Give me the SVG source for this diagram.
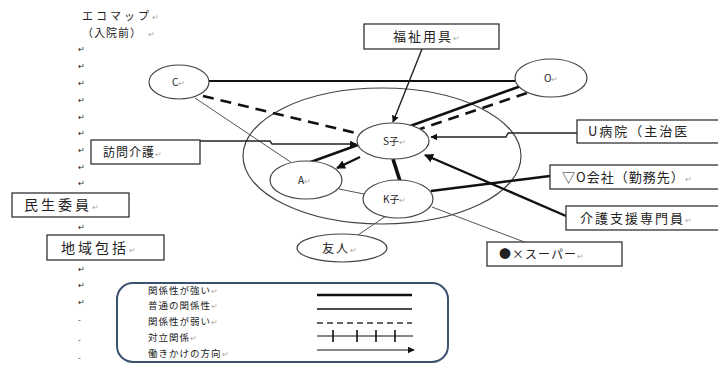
<svg xmlns="http://www.w3.org/2000/svg" width="718" height="367" viewBox="0 0 718 367">
<style>
text{font-family:"Noto Sans CJK JP","Noto Sans",sans-serif;fill:#222}
.box{fill:#fff;stroke:#333;stroke-width:1.3}
.node{fill:#fff;stroke:#444;stroke-width:1.2}
.rm{fill:#aaa;font-size:8px}
.lbl{font-size:13px;letter-spacing:2px}
.nl{font-size:10px}
.thin{stroke:#555;stroke-width:1;fill:none}
.norm{stroke:#111;stroke-width:2;fill:none}
.thick{stroke:#111;stroke-width:2.6;fill:none}
.dash{stroke:#111;stroke-width:2.6;stroke-dasharray:11,7;fill:none}
.arr{stroke:#222;stroke-width:1.4;fill:none;marker-end:url(#ah)}
.arrT{stroke:#111;stroke-width:2.4;fill:none;marker-end:url(#ah2)}
.lg{font-size:9.5px;letter-spacing:1px}
</style>
<defs>
<marker id="ah" viewBox="0 0 10 10" refX="9" refY="5" markerWidth="7" markerHeight="7" orient="auto" markerUnits="userSpaceOnUse"><path d="M0,0 L10,5 L0,10 z" fill="#111"/></marker>
<marker id="ah2" viewBox="0 0 10 10" refX="9" refY="5" markerWidth="9" markerHeight="9" orient="auto" markerUnits="userSpaceOnUse"><path d="M0,0 L10,5 L0,10 z" fill="#111"/></marker>
</defs>
<rect width="718" height="367" fill="#fff"/>

<g id="title">
<text x="82" y="20" font-size="11" letter-spacing="3">エコマップ<tspan class="rm">↵</tspan></text>
<text x="82" y="37" font-size="11" letter-spacing="1">（入院前）<tspan class="rm" dx="6">↵</tspan></text>
</g>

<g id="return-marks" class="rm">
<text x="78" y="52">↵</text><text x="78" y="69">↵</text><text x="78" y="86">↵</text><text x="78" y="103">↵</text><text x="78" y="120">↵</text><text x="78" y="136">↵</text><text x="78" y="153">↵</text><text x="78" y="170">↵</text><text x="78" y="186">↵</text><text x="78" y="230">↵</text><text x="78" y="272">↵</text><text x="78" y="288">↵</text><text x="78" y="305">↵</text><text x="78" y="323">-</text><text x="78" y="343">-</text><text x="78" y="361">-</text>
</g>

<g id="family-circle"><ellipse cx="382" cy="156" rx="139" ry="68" fill="none" stroke="#444" stroke-width="1.2"/></g>

<g id="connectors">
<line class="norm" x1="209" y1="81" x2="515" y2="81"/>
<line class="dash" x1="203" y1="96" x2="360" y2="134"/>
<line class="thin" x1="195" y1="98" x2="292" y2="163"/>
<line class="thick" x1="521" y1="86" x2="308" y2="163"/>
<line class="dash" x1="527" y1="93" x2="420" y2="129"/>
<line class="arr" x1="422" y1="49" x2="393" y2="122"/>
<polyline class="arr" points="200,141 270,141 272,144 356,144"/>
<polyline class="arr" points="577,133 508,133 506,137 431,137"/>
<line class="arrT" x1="360" y1="157" x2="337" y2="168"/>
<line stroke="#111" stroke-width="3.6" x1="393" y1="159" x2="400" y2="181"/>
<line class="thick" x1="431" y1="191" x2="550" y2="176"/>
<line class="arrT" x1="566" y1="216" x2="425" y2="155"/>
<line class="thin" x1="339" y1="189" x2="364" y2="194"/>
<line class="thin" x1="386" y1="216" x2="355" y2="237"/>
<line class="thin" x1="432" y1="207" x2="527" y2="243"/>
</g>

<g id="node-C"><ellipse class="node" cx="179" cy="82" rx="30" ry="17"/><text class="nl" x="172" y="86">C<tspan class="rm">↵</tspan></text></g>
<g id="node-O"><ellipse class="node" cx="551" cy="78" rx="36" ry="19"/><text class="nl" x="544" y="82">O<tspan class="rm">↵</tspan></text></g>
<g id="node-S"><ellipse class="node" cx="393" cy="141" rx="36" ry="18"/><text class="nl" x="383" y="145">S子<tspan class="rm">↵</tspan></text></g>
<g id="node-A"><ellipse class="node" cx="306" cy="180" rx="36" ry="19"/><text class="nl" x="298" y="184">A<tspan class="rm">↵</tspan></text></g>
<g id="node-K"><ellipse class="node" cx="398" cy="199" rx="35" ry="19"/><text class="nl" x="383" y="203">K子<tspan class="rm">↵</tspan></text></g>
<g id="node-friend"><ellipse class="node" cx="342" cy="248" rx="45" ry="14"/><text x="322" y="253" font-size="12" letter-spacing="2">友人<tspan class="rm">↵</tspan></text></g>

<g id="box-fukushi"><rect class="box" x="364" y="24" width="135" height="25"/><text class="lbl" x="393" y="41">福祉用具<tspan class="rm">↵</tspan></text></g>
<g id="box-houmon"><rect class="box" x="91" y="140" width="109" height="24"/><text x="103" y="157" font-size="12" letter-spacing="1">訪問介護<tspan class="rm">↵</tspan></text></g>
<g id="box-minsei"><rect class="box" x="12" y="193" width="117" height="24"/><text x="24" y="210" font-size="14" letter-spacing="3">民生委員<tspan class="rm">↵</tspan></text></g>
<g id="box-chiiki"><rect class="box" x="47" y="235" width="117" height="25"/><text x="61" y="253" font-size="14" letter-spacing="3">地域包括<tspan class="rm">↵</tspan></text></g>
<g id="box-hospital"><rect class="box" x="577" y="120" width="150" height="23"/><text class="lbl" x="588" y="136">U病院（主治医</text></g>
<g id="box-company"><rect class="box" x="550" y="165" width="170" height="24"/><text x="562" y="182" font-size="13" letter-spacing="1">▽O会社（勤務先）<tspan class="rm">↵</tspan></text></g>
<g id="box-care"><rect class="box" x="566" y="206" width="160" height="24"/><text class="lbl" x="580" y="223">介護支援専門員<tspan class="rm">↵</tspan></text></g>
<g id="box-super"><rect class="box" x="487" y="242" width="135" height="24"/><text x="499" y="259" font-size="12" letter-spacing="1">●×スーパー<tspan class="rm">↵</tspan></text></g>

<g id="legend">
<rect x="117" y="283" width="331" height="79" rx="16" fill="#fff" stroke="#3c5070" stroke-width="2"/>
<text class="lg" x="148" y="294">関係性が強い<tspan class="rm">↵</tspan></text>
<text class="lg" x="148" y="309">普通の関係性<tspan class="rm">↵</tspan></text>
<text class="lg" x="148" y="325">関係性が弱い<tspan class="rm">↵</tspan></text>
<text class="lg" x="148" y="341">対立関係<tspan class="rm">↵</tspan></text>
<text class="lg" x="148" y="357">働きかけの方向<tspan class="rm">↵</tspan></text>
<line x1="317" y1="295" x2="412" y2="295" stroke="#111" stroke-width="2.4"/>
<line x1="317" y1="309" x2="412" y2="309" stroke="#111" stroke-width="1.4"/>
<line x1="317" y1="323" x2="412" y2="323" stroke="#333" stroke-width="1.4" stroke-dasharray="6,4"/>
<line x1="317" y1="336" x2="413" y2="336" stroke="#111" stroke-width="1.2"/>
<line x1="333" y1="330" x2="333" y2="342" stroke="#111" stroke-width="1.6"/>
<line x1="357" y1="330" x2="357" y2="342" stroke="#111" stroke-width="1.6"/>
<line x1="376" y1="330" x2="376" y2="342" stroke="#111" stroke-width="1.6"/>
<line x1="395" y1="330" x2="395" y2="342" stroke="#111" stroke-width="1.6"/>
<line x1="317" y1="350" x2="414" y2="350" stroke="#111" stroke-width="1.2" marker-end="url(#ah)"/>
</g>
</svg>
